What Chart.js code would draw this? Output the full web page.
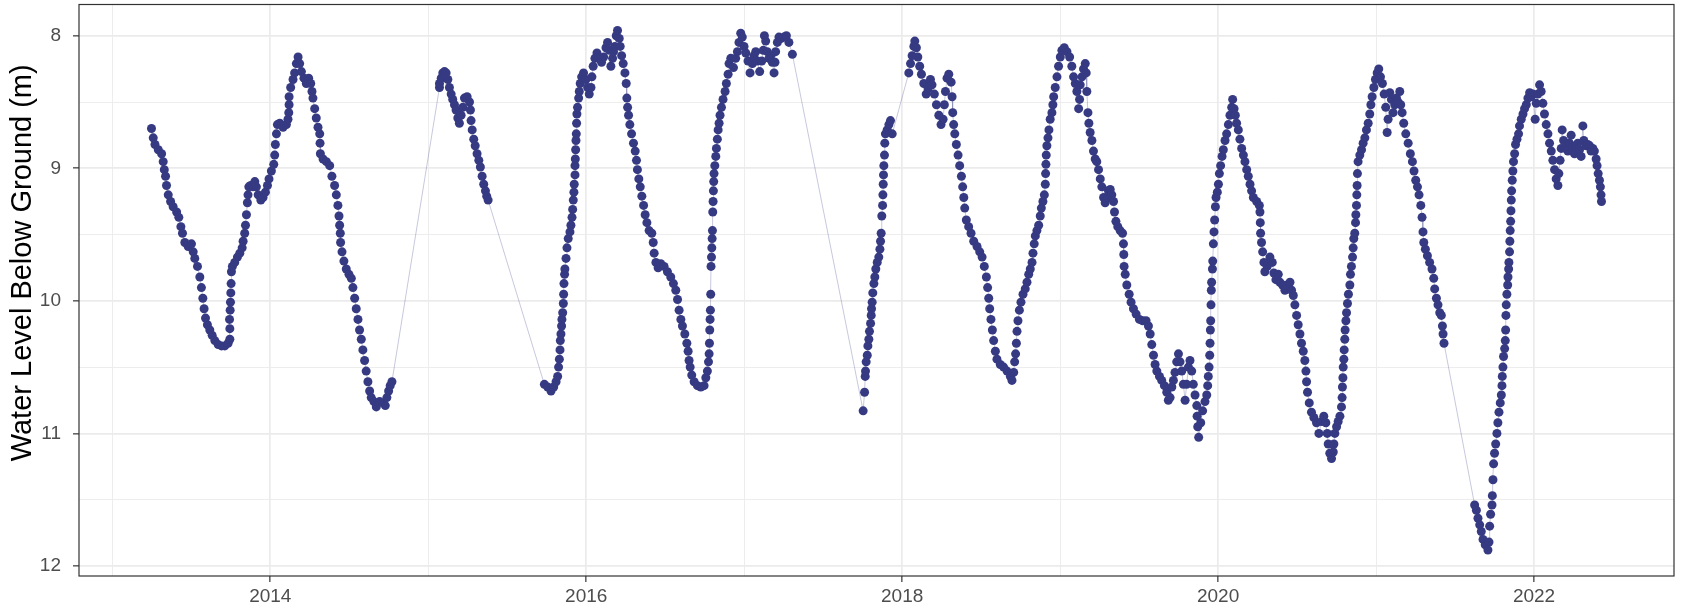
<!DOCTYPE html>
<html>
<head>
<meta charset="utf-8">
<title>Water level below ground</title>
<script src="https://cdn.jsdelivr.net/npm/chart.js@4.4.1/dist/chart.umd.min.js"></script>
<style>
  html, body { margin: 0; padding: 0; background: #ffffff; }
  canvas { display: block; }
</style>
</head>
<body>
<canvas id="wellChart" width="1683" height="610"></canvas>
<script>
// Logger runs: decimal year and depth to water (m below ground).
// Runs are split where the logger was out of the well.

// spring 2013 - autumn 2014
const tA = [2013.248, 2013.259, 2013.270, 2013.291, 2013.312, 2013.322, 2013.329, 2013.337, 2013.343, 2013.354,
  2013.369, 2013.385, 2013.407, 2013.421, 2013.434, 2013.444, 2013.459, 2013.480, 2013.501, 2013.512,
  2013.522, 2013.539, 2013.554, 2013.564, 2013.573, 2013.581, 2013.590, 2013.602, 2013.617, 2013.632,
  2013.649, 2013.670, 2013.691, 2013.712, 2013.733, 2013.744, 2013.744, 2013.742, 2013.746, 2013.748,
  2013.750, 2013.752, 2013.754, 2013.760, 2013.775, 2013.792, 2013.807, 2013.822, 2013.828, 2013.838,
  2013.843, 2013.849, 2013.855, 2013.859, 2013.864, 2013.876, 2013.891, 2013.902, 2013.912, 2013.923,
  2013.940, 2013.954, 2013.969, 2013.982, 2013.992, 2014.007, 2014.022, 2014.028, 2014.032, 2014.039,
  2014.045, 2014.060, 2014.081, 2014.102, 2014.112, 2014.117, 2014.119, 2014.119, 2014.129, 2014.144,
  2014.154, 2014.165, 2014.176, 2014.186, 2014.197, 2014.213, 2014.228, 2014.243, 2014.256, 2014.264,
  2014.270, 2014.281, 2014.291, 2014.302, 2014.313, 2014.315, 2014.317, 2014.334, 2014.355, 2014.376,
  2014.390, 2014.407, 2014.418, 2014.428, 2014.435, 2014.439, 2014.443, 2014.445, 2014.454, 2014.466,
  2014.481, 2014.498, 2014.513, 2014.523, 2014.534, 2014.544, 2014.555, 2014.565, 2014.576, 2014.586,
  2014.597, 2014.607, 2014.618, 2014.629, 2014.639, 2014.656, 2014.671, 2014.692, 2014.713, 2014.728,
  2014.738, 2014.749, 2014.759, 2014.770];
const wlA = [8.70, 8.77, 8.82, 8.86, 8.89, 8.95, 9.01, 9.06, 9.13, 9.20,
  9.25, 9.29, 9.33, 9.37, 9.44, 9.49, 9.56, 9.59, 9.57, 9.63,
  9.68, 9.74, 9.82, 9.90, 9.98, 10.06, 10.13, 10.18, 10.22, 10.26,
  10.30, 10.33, 10.34, 10.34, 10.32, 10.29, 10.21, 10.14, 10.07, 10.01,
  9.94, 9.87, 9.78, 9.74, 9.71, 9.67, 9.64, 9.60, 9.55, 9.49,
  9.43, 9.35, 9.26, 9.20, 9.14, 9.13, 9.14, 9.10, 9.14, 9.20,
  9.24, 9.22, 9.18, 9.13, 9.08, 9.02, 8.97, 8.90, 8.82, 8.74,
  8.67, 8.66, 8.69, 8.67, 8.63, 8.58, 8.52, 8.46, 8.39, 8.33,
  8.28, 8.21, 8.16, 8.21, 8.27, 8.32, 8.36, 8.32, 8.36, 8.42,
  8.47, 8.55, 8.62, 8.69, 8.74, 8.81, 8.89, 8.93, 8.95, 8.98,
  9.06, 9.13, 9.20, 9.28, 9.36, 9.43, 9.49, 9.56, 9.63, 9.70,
  9.76, 9.80, 9.83, 9.90, 9.98, 10.06, 10.14, 10.22, 10.29, 10.37,
  10.45, 10.53, 10.61, 10.68, 10.73, 10.76, 10.80, 10.76, 10.77, 10.79,
  10.73, 10.68, 10.64, 10.61];

// early 2015
const tB = [2015.071, 2015.071, 2015.082, 2015.092, 2015.103, 2015.113, 2015.124, 2015.134, 2015.145, 2015.155,
  2015.166, 2015.176, 2015.187, 2015.197, 2015.208, 2015.219, 2015.229, 2015.246, 2015.261, 2015.267,
  2015.271, 2015.278, 2015.288, 2015.297, 2015.309, 2015.320, 2015.330, 2015.341, 2015.351, 2015.362,
  2015.370, 2015.379];
const wlB = [8.39, 8.36, 8.32, 8.28, 8.27, 8.28, 8.33, 8.39, 8.44, 8.48,
  8.52, 8.56, 8.62, 8.66, 8.60, 8.54, 8.47, 8.46, 8.50, 8.56,
  8.64, 8.71, 8.78, 8.83, 8.89, 8.94, 8.99, 9.06, 9.12, 9.17,
  9.21, 9.24];

// autumn 2015 - spring 2017
const tC = [2015.735, 2015.756, 2015.777, 2015.794, 2015.809, 2015.819, 2015.825, 2015.830, 2015.834, 2015.836,
  2015.840, 2015.844, 2015.846, 2015.851, 2015.855, 2015.857, 2015.859, 2015.863, 2015.865, 2015.872,
  2015.878, 2015.886, 2015.897, 2015.903, 2015.910, 2015.914, 2015.918, 2015.922, 2015.924, 2015.929,
  2015.929, 2015.931, 2015.933, 2015.935, 2015.937, 2015.939, 2015.941, 2015.945, 2015.952, 2015.956,
  2015.962, 2015.971, 2015.983, 2015.998, 2016.009, 2016.019, 2016.030, 2016.036, 2016.044, 2016.055,
  2016.068, 2016.082, 2016.097, 2016.110, 2016.125, 2016.135, 2016.146, 2016.156, 2016.167, 2016.173,
  2016.181, 2016.190, 2016.198, 2016.209, 2016.215, 2016.224, 2016.234, 2016.245, 2016.253, 2016.257,
  2016.262, 2016.268, 2016.276, 2016.287, 2016.299, 2016.310, 2016.318, 2016.324, 2016.333, 2016.342,
  2016.352, 2016.363, 2016.373, 2016.384, 2016.398, 2016.415, 2016.424, 2016.430, 2016.441, 2016.455,
  2016.472, 2016.493, 2016.514, 2016.535, 2016.552, 2016.567, 2016.578, 2016.588, 2016.599, 2016.609,
  2016.624, 2016.637, 2016.645, 2016.651, 2016.658, 2016.668, 2016.683, 2016.704, 2016.725, 2016.746,
  2016.757, 2016.767, 2016.774, 2016.778, 2016.780, 2016.782, 2016.784, 2016.786, 2016.788, 2016.790,
  2016.793, 2016.795, 2016.797, 2016.799, 2016.801, 2016.803, 2016.805, 2016.807, 2016.809, 2016.814,
  2016.820, 2016.824, 2016.830, 2016.835, 2016.841, 2016.847, 2016.856, 2016.866, 2016.879, 2016.887,
  2016.898, 2016.904, 2016.915, 2016.932, 2016.946, 2016.957, 2016.967, 2016.978, 2016.988, 2016.999,
  2017.010, 2017.024, 2017.037, 2017.052, 2017.062, 2017.073, 2017.083, 2017.098, 2017.111, 2017.121,
  2017.128, 2017.136, 2017.146, 2017.157, 2017.168, 2017.178, 2017.189, 2017.195, 2017.199, 2017.210,
  2017.220, 2017.235, 2017.252, 2017.267, 2017.283, 2017.305];
const wlC = [10.63, 10.65, 10.68, 10.65, 10.61, 10.57, 10.50, 10.44, 10.37, 10.30,
  10.25, 10.19, 10.14, 10.09, 10.02, 9.95, 9.87, 9.80, 9.76, 9.68,
  9.60, 9.53, 9.48, 9.43, 9.37, 9.31, 9.24, 9.18, 9.12, 9.05,
  8.98, 8.93, 8.86, 8.79, 8.74, 8.66, 8.59, 8.54, 8.47, 8.42,
  8.36, 8.31, 8.28, 8.33, 8.39, 8.44, 8.39, 8.31, 8.23, 8.17,
  8.13, 8.17, 8.20, 8.16, 8.09, 8.05, 8.11, 8.23, 8.17, 8.12,
  8.08, 8.00, 7.96, 8.02, 8.08, 8.15, 8.21, 8.28, 8.36, 8.47,
  8.54, 8.60, 8.67, 8.74, 8.81, 8.87, 8.94, 9.01, 9.08, 9.14,
  9.21, 9.28, 9.35, 9.41, 9.47, 9.49, 9.56, 9.64, 9.71, 9.75,
  9.72, 9.74, 9.78, 9.82, 9.87, 9.92, 9.99, 10.07, 10.14, 10.19,
  10.25, 10.32, 10.38, 10.45, 10.50, 10.56, 10.61, 10.64, 10.65, 10.64,
  10.58, 10.53, 10.46, 10.40, 10.32, 10.22, 10.14, 10.07, 9.95, 9.74,
  9.67, 9.60, 9.53, 9.47, 9.33, 9.25, 9.17, 9.10, 9.04, 8.98,
  8.91, 8.85, 8.78, 8.71, 8.66, 8.60, 8.54, 8.48, 8.42, 8.36,
  8.29, 8.21, 8.17, 8.24, 8.17, 8.12, 8.05, 7.98, 8.01, 8.08,
  8.13, 8.19, 8.28, 8.21, 8.15, 8.12, 8.19, 8.27, 8.19, 8.11,
  8.00, 8.04, 8.12, 8.17, 8.15, 8.20, 8.28, 8.20, 8.12, 8.05,
  8.01, 8.02, 8.01, 8.00, 8.05, 8.14];

// autumn 2017 - winter 2018
const tD = [2017.753, 2017.762, 2017.766, 2017.768, 2017.772, 2017.779, 2017.783, 2017.789, 2017.793, 2017.800,
  2017.804, 2017.806, 2017.810, 2017.814, 2017.821, 2017.827, 2017.833, 2017.842, 2017.852, 2017.859,
  2017.863, 2017.867, 2017.871, 2017.876, 2017.878, 2017.880, 2017.882, 2017.884, 2017.888, 2017.890,
  2017.894, 2017.905, 2017.916, 2017.926, 2017.937, 2018.042, 2018.053, 2018.063, 2018.074, 2018.080,
  2018.090, 2018.099, 2018.111, 2018.122, 2018.137, 2018.152, 2018.164, 2018.179];
const wlD = [10.83, 10.69, 10.57, 10.53, 10.46, 10.41, 10.34, 10.29, 10.23, 10.17,
  10.11, 10.06, 10.01, 9.94, 9.87, 9.82, 9.76, 9.71, 9.67, 9.61,
  9.55, 9.49, 9.36, 9.28, 9.20, 9.12, 9.05, 8.98, 8.90, 8.81,
  8.74, 8.71, 8.67, 8.64, 8.74, 8.28, 8.21, 8.15, 8.08, 8.04,
  8.09, 8.16, 8.23, 8.29, 8.36, 8.44, 8.40, 8.33];

// 2018 - end of 2019
const tE = [2018.189, 2018.204, 2018.217, 2018.232, 2018.246, 2018.259, 2018.267, 2018.274, 2018.284, 2018.295,
  2018.310, 2018.316, 2018.320, 2018.326, 2018.333, 2018.343, 2018.354, 2018.364, 2018.375, 2018.383,
  2018.390, 2018.396, 2018.406, 2018.421, 2018.436, 2018.453, 2018.474, 2018.491, 2018.506, 2018.520,
  2018.533, 2018.541, 2018.548, 2018.554, 2018.562, 2018.571, 2018.579, 2018.590, 2018.600, 2018.621,
  2018.642, 2018.664, 2018.685, 2018.695, 2018.706, 2018.712, 2018.718, 2018.723, 2018.727, 2018.733,
  2018.742, 2018.752, 2018.765, 2018.779, 2018.790, 2018.801, 2018.811, 2018.822, 2018.828, 2018.836,
  2018.843, 2018.853, 2018.864, 2018.874, 2018.881, 2018.891, 2018.900, 2018.906, 2018.908, 2018.910,
  2018.912, 2018.916, 2018.923, 2018.929, 2018.937, 2018.948, 2018.954, 2018.959, 2018.969, 2018.980,
  2018.990, 2019.001, 2019.011, 2019.026, 2019.043, 2019.060, 2019.074, 2019.085, 2019.096, 2019.106,
  2019.117, 2019.123, 2019.127, 2019.138, 2019.148, 2019.159, 2019.165, 2019.169, 2019.176, 2019.182,
  2019.190, 2019.201, 2019.211, 2019.222, 2019.232, 2019.243, 2019.254, 2019.264, 2019.275, 2019.285,
  2019.296, 2019.306, 2019.317, 2019.327, 2019.338, 2019.344, 2019.353, 2019.365, 2019.380, 2019.395,
  2019.401, 2019.403, 2019.405, 2019.412, 2019.422, 2019.437, 2019.449, 2019.464, 2019.481, 2019.502,
  2019.523, 2019.544, 2019.559, 2019.570, 2019.580, 2019.591, 2019.601, 2019.612, 2019.629, 2019.643,
  2019.660, 2019.675, 2019.685, 2019.696, 2019.707, 2019.717, 2019.727, 2019.738, 2019.749, 2019.759,
  2019.770, 2019.780, 2019.791, 2019.801, 2019.812, 2019.822, 2019.833, 2019.843, 2019.854, 2019.865,
  2019.867, 2019.871, 2019.877, 2019.890, 2019.902, 2019.917, 2019.928];
const wlE = [8.37, 8.44, 8.52, 8.60, 8.67, 8.63, 8.52, 8.42, 8.32, 8.29,
  8.35, 8.46, 8.58, 8.67, 8.74, 8.82, 8.90, 8.98, 9.06, 9.14,
  9.22, 9.30, 9.39, 9.44, 9.49, 9.55, 9.59, 9.63, 9.67, 9.74,
  9.82, 9.90, 9.98, 10.06, 10.14, 10.22, 10.30, 10.38, 10.44, 10.48,
  10.50, 10.53, 10.57, 10.60, 10.54, 10.46, 10.40, 10.32, 10.23, 10.15,
  10.07, 10.01, 9.95, 9.91, 9.86, 9.80, 9.76, 9.71, 9.64, 9.57,
  9.51, 9.47, 9.43, 9.36, 9.30, 9.25, 9.20, 9.12, 9.04, 8.97,
  8.90, 8.83, 8.77, 8.71, 8.63, 8.58, 8.52, 8.46, 8.39, 8.31,
  8.23, 8.16, 8.11, 8.09, 8.12, 8.16, 8.23, 8.31, 8.36, 8.42,
  8.55, 8.48, 8.37, 8.31, 8.25, 8.21, 8.28, 8.42, 8.58, 8.66,
  8.73, 8.79, 8.87, 8.93, 8.95, 9.01, 9.08, 9.14, 9.22, 9.26,
  9.22, 9.17, 9.16, 9.20, 9.25, 9.33, 9.40, 9.44, 9.47, 9.49,
  9.57, 9.65, 9.74, 9.80, 9.88, 9.95, 10.01, 10.06, 10.10, 10.14,
  10.15, 10.15, 10.19, 10.25, 10.33, 10.41, 10.48, 10.53, 10.57, 10.60,
  10.64, 10.69, 10.75, 10.73, 10.65, 10.60, 10.54, 10.46, 10.40, 10.46,
  10.53, 10.63, 10.75, 10.63, 10.50, 10.45, 10.53, 10.63, 10.71, 10.79,
  10.87, 10.95, 11.03, 10.92, 10.83, 10.76, 10.71];

// end of 2019 - spring 2021
const tF = [2019.934, 2019.938, 2019.943, 2019.947, 2019.949, 2019.951, 2019.953, 2019.955, 2019.957, 2019.959,
  2019.964, 2019.966, 2019.970, 2019.974, 2019.978, 2019.983, 2019.987, 2019.995, 2020.002, 2020.008,
  2020.016, 2020.025, 2020.033, 2020.044, 2020.054, 2020.065, 2020.075, 2020.086, 2020.092, 2020.101,
  2020.109, 2020.117, 2020.128, 2020.138, 2020.149, 2020.160, 2020.170, 2020.181, 2020.191, 2020.202,
  2020.212, 2020.223, 2020.244, 2020.261, 2020.265, 2020.267, 2020.269, 2020.275, 2020.282, 2020.290,
  2020.296, 2020.311, 2020.328, 2020.343, 2020.353, 2020.366, 2020.381, 2020.391, 2020.408, 2020.423,
  2020.438, 2020.455, 2020.465, 2020.476, 2020.486, 2020.497, 2020.507, 2020.518, 2020.528, 2020.539,
  2020.549, 2020.556, 2020.560, 2020.566, 2020.577, 2020.591, 2020.606, 2020.623, 2020.638, 2020.655,
  2020.669, 2020.682, 2020.691, 2020.697, 2020.707, 2020.718, 2020.729, 2020.733, 2020.739, 2020.750,
  2020.760, 2020.771, 2020.781, 2020.785, 2020.787, 2020.790, 2020.792, 2020.796, 2020.798, 2020.802,
  2020.804, 2020.809, 2020.813, 2020.819, 2020.825, 2020.834, 2020.838, 2020.844, 2020.851, 2020.855,
  2020.859, 2020.865, 2020.870, 2020.872, 2020.876, 2020.878, 2020.880, 2020.882, 2020.886, 2020.897,
  2020.908, 2020.918, 2020.929, 2020.939, 2020.950, 2020.960, 2020.967, 2020.975, 2020.986, 2020.996,
  2021.007, 2021.017, 2021.028, 2021.040, 2021.051, 2021.061, 2021.070, 2021.076, 2021.087, 2021.097,
  2021.108, 2021.118, 2021.129, 2021.139, 2021.150, 2021.156, 2021.165, 2021.175, 2021.188, 2021.203,
  2021.217, 2021.230, 2021.240, 2021.251, 2021.262, 2021.272, 2021.283, 2021.291, 2021.297, 2021.302,
  2021.312, 2021.325, 2021.339, 2021.354, 2021.365, 2021.371, 2021.382, 2021.392, 2021.403, 2021.413,
  2021.420, 2021.424, 2021.430];
const wlF = [10.64, 10.57, 10.50, 10.41, 10.32, 10.22, 10.15, 10.03, 9.92, 9.86,
  9.76, 9.70, 9.57, 9.48, 9.39, 9.29, 9.22, 9.18, 9.12, 9.04,
  8.98, 8.91, 8.86, 8.79, 8.74, 8.67, 8.60, 8.54, 8.48, 8.55,
  8.60, 8.66, 8.71, 8.78, 8.85, 8.90, 8.95, 9.01, 9.06, 9.12,
  9.17, 9.22, 9.25, 9.28, 9.33, 9.41, 9.49, 9.56, 9.63, 9.71,
  9.78, 9.74, 9.67, 9.71, 9.79, 9.84, 9.80, 9.86, 9.88, 9.92,
  9.88, 9.86, 9.92, 9.96, 10.03, 10.11, 10.18, 10.25, 10.32, 10.38,
  10.45, 10.53, 10.61, 10.69, 10.77, 10.84, 10.88, 10.92, 11.00, 10.91,
  10.87, 10.92, 11.00, 11.08, 11.15, 11.19, 11.14, 11.08, 11.00, 10.95,
  10.91, 10.87, 10.80, 10.73, 10.65, 10.58, 10.50, 10.44, 10.37, 10.29,
  10.22, 10.15, 10.09, 10.02, 9.95, 9.88, 9.80, 9.74, 9.67, 9.60,
  9.53, 9.49, 9.41, 9.35, 9.28, 9.20, 9.13, 9.04, 8.95, 8.90,
  8.86, 8.81, 8.77, 8.71, 8.66, 8.59, 8.52, 8.46, 8.39, 8.33,
  8.28, 8.25, 8.31, 8.36, 8.44, 8.54, 8.73, 8.63, 8.43, 8.48,
  8.58, 8.52, 8.47, 8.50, 8.42, 8.52, 8.58, 8.66, 8.74, 8.81,
  8.89, 8.95, 9.02, 9.09, 9.14, 9.20, 9.28, 9.37, 9.48, 9.56,
  9.61, 9.66, 9.71, 9.76, 9.83, 9.91, 9.98, 10.03, 10.09, 10.11,
  10.19, 10.25, 10.32];

// autumn 2021 - mid 2022
const tG = [2021.624, 2021.635, 2021.645, 2021.656, 2021.666, 2021.677, 2021.691, 2021.708, 2021.715, 2021.719,
  2021.725, 2021.734, 2021.736, 2021.740, 2021.744, 2021.750, 2021.757, 2021.765, 2021.771, 2021.778,
  2021.786, 2021.793, 2021.797, 2021.799, 2021.803, 2021.807, 2021.814, 2021.818, 2021.820, 2021.822,
  2021.824, 2021.828, 2021.833, 2021.835, 2021.839, 2021.841, 2021.845, 2021.847, 2021.849, 2021.852,
  2021.854, 2021.856, 2021.858, 2021.862, 2021.866, 2021.870, 2021.877, 2021.883, 2021.892, 2021.902,
  2021.908, 2021.919, 2021.930, 2021.940, 2021.951, 2021.961, 2021.972, 2021.982, 2021.993, 2022.007,
  2022.014, 2022.024, 2022.035, 2022.045, 2022.056, 2022.066, 2022.077, 2022.088, 2022.098, 2022.109,
  2022.119, 2022.130, 2022.140, 2022.151, 2022.157, 2022.165, 2022.172, 2022.178, 2022.187, 2022.199,
  2022.214, 2022.224, 2022.235, 2022.245, 2022.256, 2022.266, 2022.277, 2022.288, 2022.298, 2022.309,
  2022.315, 2022.330, 2022.340, 2022.351, 2022.361, 2022.372, 2022.382, 2022.393, 2022.399, 2022.406,
  2022.414, 2022.420, 2022.424, 2022.427];
const wlG = [11.54, 11.58, 11.64, 11.69, 11.74, 11.80, 11.84, 11.88, 11.82, 11.70,
  11.61, 11.54, 11.47, 11.35, 11.23, 11.15, 11.08, 11.00, 10.92, 10.84,
  10.77, 10.71, 10.64, 10.57, 10.50, 10.42, 10.36, 10.30, 10.22, 10.11,
  10.03, 9.95, 9.88, 9.82, 9.76, 9.71, 9.63, 9.55, 9.47, 9.40,
  9.32, 9.24, 9.17, 9.09, 9.02, 8.95, 8.89, 8.82, 8.78, 8.74,
  8.68, 8.63, 8.59, 8.55, 8.52, 8.47, 8.43, 8.46, 8.44, 8.63,
  8.51, 8.44, 8.37, 8.42, 8.51, 8.59, 8.67, 8.74, 8.81, 8.87,
  8.94, 9.01, 9.08, 9.13, 9.04, 8.94, 8.85, 8.71, 8.79, 8.85,
  8.87, 8.81, 8.75, 8.85, 8.89, 8.83, 8.81, 8.86, 8.91, 8.68,
  8.79, 8.83, 8.82, 8.83, 8.87, 8.85, 8.87, 8.93, 8.98, 9.04,
  9.09, 9.14, 9.20, 9.25];

const yearLines = [2013, 2014, 2015, 2016, 2017, 2018, 2019, 2020, 2021, 2022];
const yearLabels = [2014, 2016, 2018, 2020, 2022];
const depthLines = [8, 8.5, 9, 9.5, 10, 10.5, 11, 11.5, 12];
const depthLabels = [8, 9, 10, 11, 12];
const yTitle = 'Water Level Below Ground (m)';

const runs = [[tA, wlA], [tB, wlB], [tC, wlC], [tD, wlD], [tE, wlE], [tF, wlF], [tG, wlG]];
const points = [];
runs.forEach(([t, wl]) => {
  const n = Math.min(t.length, wl.length);
  for (let i = 0; i < n; i++) points.push({ x: t[i], y: wl[i] });
});

// 5% padding on each side of the data, like ggplot's default expansion
function padRange(vals) {
  const lo = Math.min(...vals);
  const hi = Math.max(...vals);
  const pad = (hi - lo) * 0.05;
  return [lo - pad, hi + pad];
}
const [xMin, xMax] = padRange(points.map(p => p.x));
const [yMin, yMax] = padRange(points.map(p => p.y));

const FONT = "'Liberation Sans', Arial, Helvetica, sans-serif";
const POINT = '#363a82';
const GRID = '#ebebeb';
const AXIS = '#333333';

function gridFor(labels) {
  return {
    drawTicks: true,
    tickLength: 6,
    color: GRID,
    lineWidth: ctx => labels.includes(ctx.tick.value) ? 1.7 : 0.9,
    tickColor: ctx => labels.includes(ctx.tick.value) ? AXIS : 'rgba(0,0,0,0)',
    tickWidth: 1.2
  };
}

// dark frame around the plotting panel, plus the rotated y title
const panelFrame = {
  id: 'panelFrame',
  afterDraw(chart) {
    const { ctx, chartArea: a } = chart;
    ctx.save();
    ctx.strokeStyle = AXIS;
    ctx.lineWidth = 1.2;
    ctx.strokeRect(a.left, a.top, a.right - a.left, a.bottom - a.top);

    ctx.translate(a.left - 56, a.top + (a.bottom - a.top) * 0.452);
    ctx.rotate(-Math.PI / 2);
    ctx.font = '29px ' + FONT;
    ctx.fillStyle = '#000000';
    ctx.textAlign = 'center';
    ctx.textBaseline = 'middle';
    ctx.fillText(yTitle, 0, 0);
    ctx.restore();
  }
};

new Chart(document.getElementById('wellChart'), {
  type: 'scatter',
  data: {
    datasets: [{
      label: yTitle,
      data: points,
      showLine: true,
      borderColor: 'rgba(54, 58, 130, 0.28)',
      borderWidth: 1,
      pointRadius: 4.5,
      pointHoverRadius: 4.5,
      pointBackgroundColor: POINT,
      pointBorderWidth: 0
    }]
  },
  options: {
    responsive: false,
    animation: false,
    events: [],
    layout: { padding: { top: 4, right: 9, left: 0, bottom: 0 } },
    plugins: {
      legend: { display: false },
      tooltip: { enabled: false }
    },
    scales: {
      x: {
        type: 'linear',
        min: xMin,
        max: xMax,
        afterBuildTicks: s => { s.ticks = yearLines.map(v => ({ value: v })); },
        afterFit: s => {
          s.height = 34;
          s.paddingLeft = 0;
          s.paddingRight = 0;
        },
        border: { display: false },
        grid: gridFor(yearLabels),
        ticks: {
          autoSkip: false,
          maxRotation: 0,
          padding: 3,
          color: '#4d4d4d',
          font: { family: FONT, size: 19 },
          callback: v => yearLabels.includes(v) ? String(v) : ''
        }
      },
      y: {
        type: 'linear',
        reverse: true,
        min: yMin,
        max: yMax,
        afterBuildTicks: s => { s.ticks = depthLines.map(v => ({ value: v })); },
        afterFit: s => {
          s.width = 79;
          s.paddingTop = 0;
          s.paddingBottom = 0;
        },
        border: { display: false },
        grid: gridFor(depthLabels),
        ticks: {
          autoSkip: false,
          padding: 12,
          color: '#4d4d4d',
          font: { family: FONT, size: 19 },
          callback: v => depthLabels.includes(v) ? String(v) : ''
        }
      }
    }
  },
  plugins: [panelFrame]
});
</script>
</body>
</html>
